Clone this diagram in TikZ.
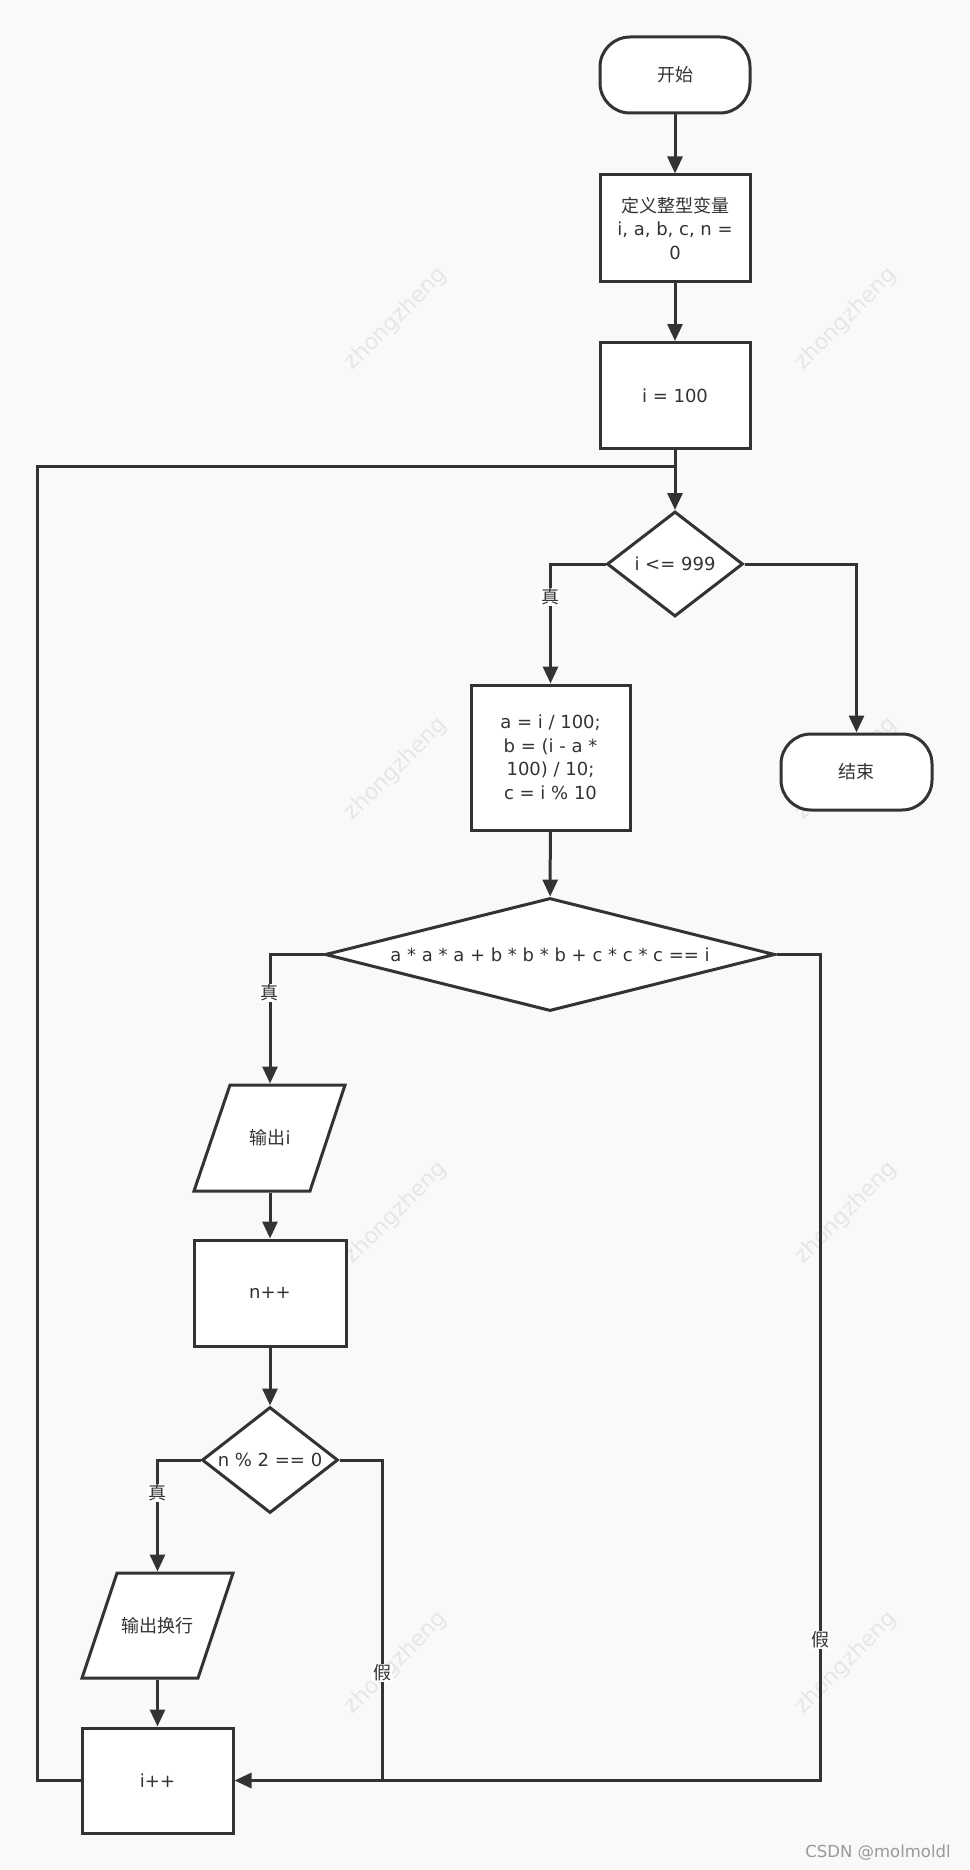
\documentclass[tikz,border=0pt]{standalone}
\usepackage{fontspec}
\setmainfont{DejaVu Sans}
\newfontfamily\cjk{Noto Sans CJK SC}
\usetikzlibrary{shapes.geometric,arrows.meta}
\definecolor{ln}{HTML}{333333}
\definecolor{bg}{HTML}{F9F9F9}
\definecolor{wm}{HTML}{E6E6E6}
\begin{document}
\begin{tikzpicture}[x=1pt,y=-1pt,
  base/.style={draw=ln, line width=3pt, fill=white, text=ln, align=center, inner sep=0pt,
    font=\fontsize{18}{23.5}\selectfont},
  proc/.style={base, rectangle, minimum width=150pt, minimum height=106pt},
  term/.style={base, rectangle, rounded corners=30pt, minimum width=150pt, minimum height=76pt},
  dec/.style={base, diamond},
  iotext/.style={base, draw=none, fill=none, rectangle, minimum width=115pt, minimum height=106pt},
  para/.style={draw=ln, line width=3pt, fill=white, line join=miter},
  conn/.style={draw=ln, line width=3pt, -{Triangle[width=15pt,length=17pt]}},
  plain/.style={draw=ln, line width=3pt},
  lbl/.style={fill=white, text=ln, inner sep=1pt, font=\cjk\fontsize{18}{20}\selectfont},
  wmk/.style={text=wm, rotate=45, font=\fontsize{22}{24}\selectfont}
]
\fill[bg] (0,0) rectangle (969,1870);
\useasboundingbox (0,0) rectangle (969,1870);

% watermarks
\foreach \wx in {396,846}{
  \foreach \wy in {319,769,1213,1663}{
    \node[wmk] at (\wx,\wy) {zhongzheng};
  }
}

% parallelogram outlines (input/output)
\draw[para] (230,1085) -- (345,1085) -- (310,1191) -- (194,1191) -- cycle;
\draw[para] (117,1573) -- (233,1573) -- (198,1678) -- (82,1678) -- cycle;

% nodes
\node[term] (start) at (675,75) {{\cjk 开始}};
\node[proc] (def) at (675,228) {{\cjk 定义整型变量}\\i, a, b, c, n =\\0};
\node[proc] (init) at (675,395.5) {i = 100};
\node[dec, minimum width=136pt, minimum height=105pt, aspect=1.3] (c1) at (675,564) {i <= 999};
\node[proc, minimum width=159pt, minimum height=145pt] (calc) at (550.5,757.5)
  {a = i / 100;\\b = (i - a *\\100) / 10;\\c = i \% 10};
\node[term, minimum width=151pt] (end) at (856.5,772) {{\cjk 结束}};
\node[dec, minimum width=450pt, minimum height=113pt, aspect=4] (c2) at (550,954.5)
  {a * a * a + b * b * b + c * c * c == i};
\node[iotext] (out1) at (270,1138) {{\cjk 输出}i};
\node[proc, minimum width=152pt] (nn) at (270,1293) {n++};
\node[dec, minimum width=136pt, minimum height=106pt, aspect=1.28] (c3) at (270,1460) {n \% 2 == 0};
\node[iotext, minimum height=105pt] (out2) at (157.5,1625.5) {{\cjk 输出换行}};
\node[proc, minimum width=151pt, minimum height=105pt] (inc) at (157.5,1780.5) {i++};

% helper coordinates
\coordinate (loopc) at (37,466);
\coordinate (loopj) at (675,466);
\coordinate (j2) at (820,1780.5);
\coordinate (j3) at (382,1780.5);

% connectors
\draw[conn] (start) -- (def);
\draw[conn] (def) -- (init);
\draw[conn] (init) -- (c1);
\draw[conn] (c1.west) -| (calc.north);
\draw[conn] (c1.east) -| (end.north);
\draw[conn] (calc) -- (c2);
\draw[conn] (c2.west) -| (out1.north);
\draw[conn] (out1) -- (nn);
\draw[conn] (nn) -- (c3);
\draw[conn] (c3.west) -| (out2.north);
\draw[conn] (out2) -- (inc);
\draw[plain] (c3.east) -| (j3);
\draw[conn] (c2.east) -| (j2) -- (inc.east);
\draw[plain] (inc.west) -| (loopc) -- (loopj);

% labels
\node[lbl] (t1) at (550,597) {真};
\node[lbl] (t2) at (269,993) {真};
\node[lbl] (t3) at (157,1493) {真};
\node[lbl] (f2) at (820,1640) {假};
\node[lbl] (f3) at (382,1673) {假};

\node[text=gray!80, font=\fontsize{16.5}{18}\selectfont] (csdn) at (878,1853) {CSDN @molmoldl};
\end{tikzpicture}
\end{document}
